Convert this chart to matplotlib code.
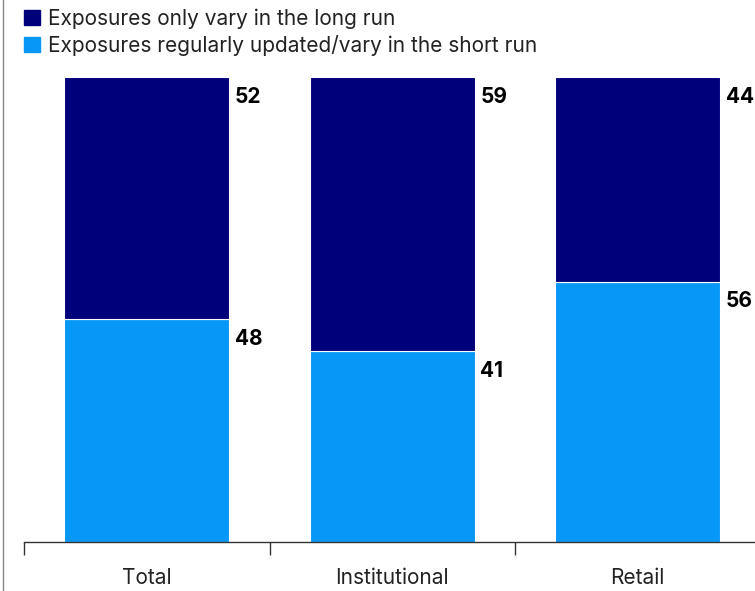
import matplotlib

matplotlib.use("Agg")
import matplotlib.pyplot as plt
from matplotlib.lines import Line2D
from matplotlib.patches import Patch

plt.rcParams["font.family"] = ["Inter", "DejaVu Sans"]

categories = ["Total", "Institutional", "Retail"]
short_run = [48, 41, 56]
long_run = [52, 59, 44]
series_names = [
    "Exposures only vary in the long run",
    "Exposures regularly updated/vary in the short run",
]

DARK = "#00007A"
LIGHT = "#0797F6"
TEXT = "#222222"
BAR_W = 0.672

fig = plt.figure(figsize=(7.55, 5.91), dpi=100)
ax = fig.add_axes((24 / 755, 49 / 591, 736.5 / 755, 465 / 591))

x = list(range(len(categories)))
ax.bar(x, short_run, width=BAR_W, color=LIGHT, edgecolor="white", linewidth=0.8)
ax.bar(x, long_run, width=BAR_W, bottom=short_run, color=DARK,
       edgecolor="white", linewidth=0.8)

for i in x:
    total = short_run[i] + long_run[i]
    for top, val in ((total, long_run[i]), (short_run[i], short_run[i])):
        ax.annotate(str(val), (i + BAR_W / 2, top), xytext=(4, -7),
                    textcoords="offset points", ha="left", va="top",
                    fontsize=15, fontweight="bold", color="black")

ax.set_xlim(-0.5, 2.5)
ax.set_ylim(0, 100)
ax.set_yticks([])
ax.set_xticks(x)
ax.set_xticklabels(categories, fontsize=15, color=TEXT)
ax.tick_params(axis="x", which="major", length=0, pad=19)
ax.set_xticks([-0.5, 0.5, 1.5, 2.5], minor=True)
ax.tick_params(axis="x", which="minor", length=9, width=1, color="#333333")
for s in ("top", "right", "left"):
    ax.spines[s].set_visible(False)
ax.spines["bottom"].set_color("#333333")
ax.spines["bottom"].set_linewidth(1)

# left border line of the panel
fig.add_artist(Line2D([3 / 755, 3 / 755], [0, 1], transform=fig.transFigure,
                      color="#888888", linewidth=1))

handles = [Patch(color=DARK), Patch(color=LIGHT)]
leg = fig.legend(handles, series_names, loc="upper left",
                 bbox_to_anchor=(20 / 755, 1 - 4 / 591), frameon=False,
                 fontsize=15, handlelength=0.75, handleheight=0.75,
                 handletextpad=0.4, labelspacing=0.3, borderaxespad=0,
                 borderpad=0.2)
for t in leg.get_texts():
    t.set_color(TEXT)

fig.savefig("out.png", dpi=100)
